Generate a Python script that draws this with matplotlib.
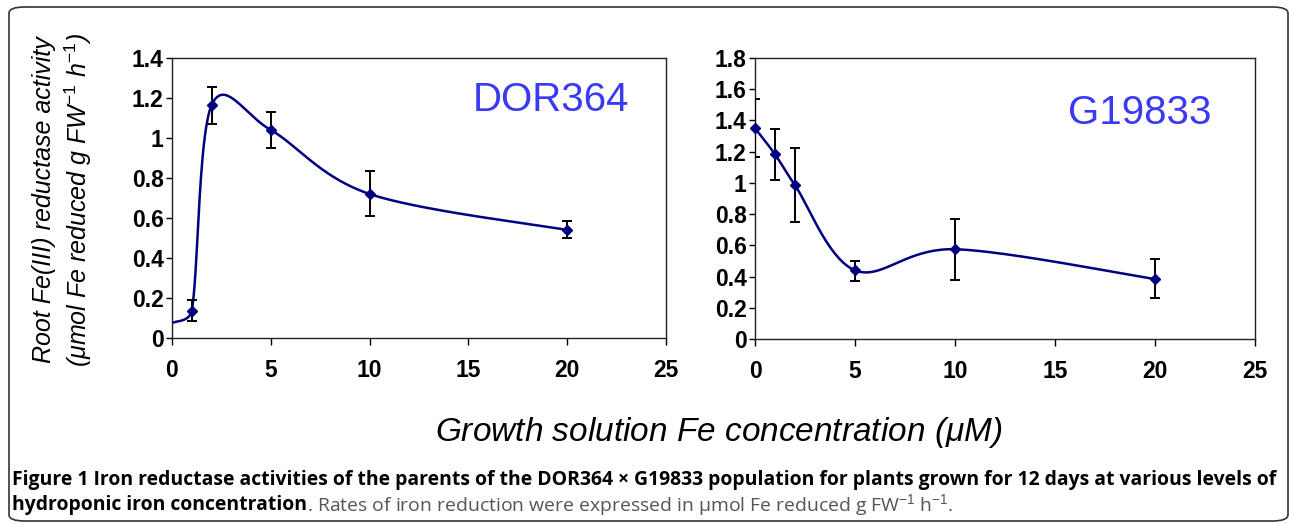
import numpy as np
import matplotlib
matplotlib.use("Agg")
import matplotlib.pyplot as plt
from matplotlib.patches import FancyBboxPatch

# data
dor_x = [1, 2, 5, 10, 20]
dor_y = [0.137, 1.163, 1.04, 0.72, 0.54]
dor_lo = [0.085, 1.068, 0.95, 0.61, 0.50]
dor_hi = [0.19, 1.257, 1.128, 0.837, 0.583]
dor_start = (0, 0.075)  # line starts at x=0, no marker shown

g_x = [0, 1, 2, 5, 10, 20]
g_y = [1.35, 1.183, 0.985, 0.44, 0.575, 0.384]
g_lo = [1.168, 1.017, 0.752, 0.37, 0.38, 0.265]
g_hi = [1.54, 1.343, 1.224, 0.502, 0.767, 0.51]

xticks = [0, 5, 10, 15, 20, 25]
dor_yticks = [0, 0.2, 0.4, 0.6, 0.8, 1, 1.2, 1.4]
g_yticks = [0, 0.2, 0.4, 0.6, 0.8, 1, 1.2, 1.4, 1.6, 1.8]

LINE = "#000080"
LABEL = "#3a3af5"

W, H = 1290, 524
plt.rcParams["font.family"] = ["Liberation Sans", "DejaVu Sans"]
plt.rcParams["mathtext.fontset"] = "custom"
plt.rcParams["mathtext.it"] = "Liberation Sans:italic"
plt.rcParams["mathtext.rm"] = "Liberation Sans"


# excel style smoothed line (bezier through the points), control arms
# limited to half the segment so short segments do not overshoot
def smooth(xs, ys, sx, sy, n=40):
    p = np.column_stack([np.array(xs) * sx, np.array(ys) * sy]).astype(float)
    out = []
    for i in range(len(p) - 1):
        a = p[i - 1] if i > 0 else p[i]
        b = p[i]
        c = p[i + 1]
        d = p[i + 2] if i + 2 < len(p) else p[i + 1]
        seg_len = np.hypot(*(c - b))
        t1 = (c - a) / 6
        t2 = (d - b) / 6
        for t in (t1, t2):
            ln = np.hypot(*t)
            if ln > 0.5 * seg_len:
                t *= 0.5 * seg_len / ln
        c1 = b + t1
        c2 = c - t2
        t = np.linspace(0, 1, n)[:, None]
        seg = (1 - t) ** 3 * b + 3 * (1 - t) ** 2 * t * c1 + 3 * (1 - t) * t ** 2 * c2 + t ** 3 * c
        out.append(seg)
    s = np.vstack(out)
    return s[:, 0] / sx, s[:, 1] / sy


fig = plt.figure(figsize=(W / 100, H / 100), dpi=100)


def box(x0, y0, x1, y1):
    # pixel coords (top-left origin) -> figure fraction
    return [x0 / W, 1 - y1 / H, (x1 - x0) / W, (y1 - y0) / H]


def panel(px, xs, ys, lo, hi, yticks, ymax, name, name_xy, start=None):
    ax = fig.add_axes(box(*px))
    lx, ly = list(xs), list(ys)
    if start is not None:
        lx = [start[0]] + lx
        ly = [start[1]] + ly
    sxp = (px[2] - px[0]) / 25
    syp = (px[3] - px[1]) / ymax
    cx, cy = smooth(lx, ly, sxp, syp)
    ax.plot(cx, cy, color=LINE, lw=1.8, zorder=2)
    ys = np.array(ys)
    err = [ys - np.array(lo), np.array(hi) - ys]
    ax.errorbar(xs, ys, yerr=err, fmt="none", ecolor="black", elinewidth=1.4,
                capsize=3.5, capthick=1.4, zorder=3)
    ax.plot(xs, ys, "D", color=LINE, ms=5.5, zorder=4, clip_on=False)
    ax.set_xlim(0, 25)
    ax.set_ylim(0, ymax)
    ax.set_xticks(xticks)
    ax.set_yticks(yticks)
    ax.set_xticklabels([str(t) for t in xticks])
    ax.set_yticklabels([("%g" % t) for t in yticks])
    ax.tick_params(axis="x", direction="out", length=5, width=1, pad=10, labelsize=16.5)
    ax.tick_params(axis="y", direction="out", length=4, width=1, pad=2, labelsize=16.5)
    for lab in ax.get_xticklabels() + ax.get_yticklabels():
        lab.set_fontweight("bold")
    for sp in ax.spines.values():
        sp.set_linewidth(1.0)
        sp.set_color("#222222")
    ax.text(name_xy[0], name_xy[1], name, transform=ax.transAxes, color=LABEL,
            fontsize=29, ha="center", va="center")
    return ax


ax1 = panel((172, 58, 666, 338), dor_x, dor_y, dor_lo, dor_hi, dor_yticks, 1.4,
            "DOR364", (0.767, 0.85), start=dor_start)
ax2 = panel((755, 58, 1255, 339), g_x, g_y, g_lo, g_hi, g_yticks, 1.8,
            "G19833", (0.77, 0.804))

# y label, two italic lines
fig.text(44 / W, 1 - 200 / H, "Root Fe(III) reductase activity", rotation=90,
         ha="center", va="center", fontsize=18, style="italic")
fig.text(78 / W, 1 - 200 / H, r"($\mu$mol Fe reduced g FW$^{-1}$ h$^{-1}$)", rotation=90,
         ha="center", va="center", fontsize=18, style="italic")

# shared x label
fig.text(719 / W, 1 - 433 / H, r"Growth solution Fe concentration ($\mu$M)",
         ha="center", va="center", fontsize=24, style="italic")

# caption
cap1 = ("Figure 1 Iron reductase activities of the parents of the DOR364 \u00d7 G19833 "
        "population for plants grown for 12 days at various levels of")
cap2a = "hydroponic iron concentration"
cap2b = ". Rates of iron reduction were expressed in \u00b5mol Fe reduced g FW$^{-1}$ h$^{-1}$."

fig.canvas.draw()
rend = fig.canvas.get_renderer()
t1 = fig.text(12 / W, 1 - 480 / H, cap1, ha="left", va="center", fontsize=12,
              fontweight="bold", family=["Open Sans", "DejaVu Sans"])
w = t1.get_window_extent(rend).width
fs = 12 * (1265 / w)
t1.set_fontsize(fs)
t2 = fig.text(12 / W, 1 - 505 / H, cap2a, ha="left", va="center", fontsize=fs,
              fontweight="bold", family=["Open Sans", "DejaVu Sans"])
bb = t2.get_window_extent(rend)
fig.text(bb.x1 / W, 1 - 505 / H, cap2b, ha="left", va="center", fontsize=fs,
         color="#555555", family=["Open Sans", "DejaVu Sans"])

# rounded frame around the figure
frame = FancyBboxPatch((9 / W, 1 - 521 / H), 1279 / W, 514 / H,
                       boxstyle="round,pad=0,rounding_size=0.012",
                       transform=fig.transFigure, fill=False, ec="#333333", lw=1.2)
fig.patches.append(frame)

fig.savefig("out.png", dpi=100)
